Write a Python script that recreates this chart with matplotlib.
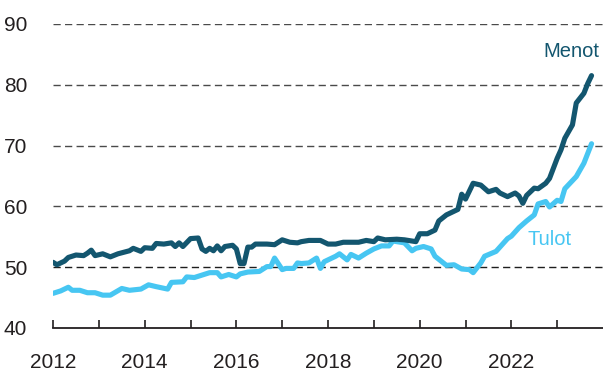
import matplotlib
matplotlib.use("Agg")
from matplotlib import pyplot as plt

# kuukausi tammikuusta 2012 alkaen (0 = 1/2012)
menot_kk = [0, 1, 3, 4, 6, 8, 9, 10, 11, 13, 15, 17, 20, 21, 23, 24, 26, 27, 29, 31,
            32, 33, 34, 36, 38, 39, 40, 41, 42, 43, 44, 45, 47, 48, 49, 50, 51, 52, 53, 56,
            58, 60, 62, 64, 65, 67, 70, 72, 74, 76, 80, 82, 84, 85, 87, 90, 92, 95, 96, 98,
            100, 101, 103, 106, 107, 108, 110, 112, 114, 116, 117, 119, 121, 122, 123, 124,
            126, 127, 129, 130, 132, 133, 134, 136, 137, 139, 140, 141]
menot = [50.8, 50.4, 51.0, 51.6, 52.0, 51.9, 52.3, 52.8, 51.9, 52.2, 51.7, 52.2, 52.7, 53.1,
         52.6, 53.2, 53.1, 53.9, 53.8, 54.0, 53.4, 54.0, 53.4, 54.7, 54.8, 53.0, 52.6, 53.1,
         52.7, 53.5, 52.7, 53.4, 53.6, 53.0, 50.6, 50.6, 53.3, 53.3, 53.8, 53.8, 53.7, 54.5,
         54.1, 54.0, 54.2, 54.4, 54.4, 53.8, 53.8, 54.1, 54.1, 54.4, 54.2, 54.8, 54.5, 54.6,
         54.5, 54.2, 55.5, 55.5, 56.1, 57.6, 58.6, 59.5, 62.0, 61.2, 63.8, 63.5, 62.4, 62.8,
         62.2, 61.6, 62.2, 61.7, 60.5, 61.8, 63.0, 62.9, 63.8, 64.6, 67.9, 69.3, 71.2, 73.4,
         77.0, 78.6, 80.2, 81.5]

tulot_kk = [0, 2, 4, 5, 7, 9, 11, 13, 15, 18, 20, 23, 25, 27, 30, 31, 34, 35, 37, 39,
            41, 43, 44, 46, 48, 49, 51, 54, 56, 57, 58, 60, 61, 63, 64, 65, 67, 69, 70, 71,
            74, 75, 77, 78, 80, 82, 84, 86, 88, 89, 92, 94, 95, 97, 99, 100, 103, 105, 107,
            109, 110, 112, 113, 116, 117, 119, 120, 122, 124, 126, 127, 129, 130, 132, 133,
            134, 137, 139, 141]
tulot = [45.7, 46.1, 46.7, 46.2, 46.2, 45.8, 45.8, 45.4, 45.4, 46.5, 46.2, 46.4, 47.1, 46.8,
         46.4, 47.5, 47.6, 48.4, 48.3, 48.7, 49.1, 49.1, 48.4, 48.8, 48.4, 48.9, 49.2, 49.3,
         50.1, 50.1, 51.5, 49.6, 49.8, 49.8, 50.7, 50.6, 50.7, 51.5, 49.8, 50.9, 51.8, 52.2,
         51.2, 52.1, 51.5, 52.3, 53.0, 53.5, 53.5, 54.3, 54.0, 52.7, 53.1, 53.4, 53.0, 51.8,
         50.3, 50.4, 49.7, 49.6, 49.1, 50.7, 51.8, 52.6, 53.3, 54.7, 55.1, 56.5, 57.6, 58.6,
         60.4, 60.8, 59.9, 61.0, 60.8, 62.9, 64.9, 67.1, 70.3]

vuodet = list(range(2012, 2024))
y_tikit = [40, 50, 60, 70, 80, 90]

tumma = "#13566f"
vaalea = "#47c6f2"
teksti = "#231f20"

plt.rcParams["font.family"] = ["Liberation Sans", "DejaVu Sans"]

fig = plt.figure(figsize=(6.03, 3.74), dpi=100)
ax = fig.add_axes([0.088, 0.123, 0.912, 0.813])

x_menot = [2012 + k / 12 for k in menot_kk]
x_tulot = [2012 + k / 12 for k in tulot_kk]

# katkoviivaiset apuviivat, 50:n kohdalla tummempi
for y in y_tikit[1:]:
    ax.axhline(y, color="#1e1e1e" if y == 50 else "#4a4a4a", lw=1.0,
               dashes=(5.2, 3.1), zorder=1)

ax.plot(x_tulot, tulot, color=vaalea, lw=3.7, solid_joinstyle="round",
        solid_capstyle="round", zorder=3)
ax.plot(x_menot, menot, color=tumma, lw=3.7, solid_joinstyle="round",
        solid_capstyle="round", zorder=4)

ax.text(2023.93, 85.4, "Menot", color=tumma, fontsize=14.5, ha="right", va="center")
ax.text(2022.84, 54.5, "Tulot", color=vaalea, fontsize=14.5, ha="center", va="center")

ax.set_xlim(2012, 2024)
ax.set_ylim(40, 90)

ax.set_xticks(vuodet)
ax.set_xticklabels([str(v) if v % 2 == 0 else "" for v in vuodet])
ax.set_yticks(y_tikit)
ax.tick_params(axis="x", direction="in", length=6, width=1.2, color=teksti,
               pad=18, labelsize=15, labelcolor=teksti)
ax.tick_params(axis="y", length=0, pad=18.5, labelsize=15, labelcolor=teksti)

for s in ["top", "right", "left"]:
    ax.spines[s].set_visible(False)
ax.spines["bottom"].set_color(teksti)
ax.spines["bottom"].set_linewidth(1.3)

fig.savefig("out.png", dpi=100)
